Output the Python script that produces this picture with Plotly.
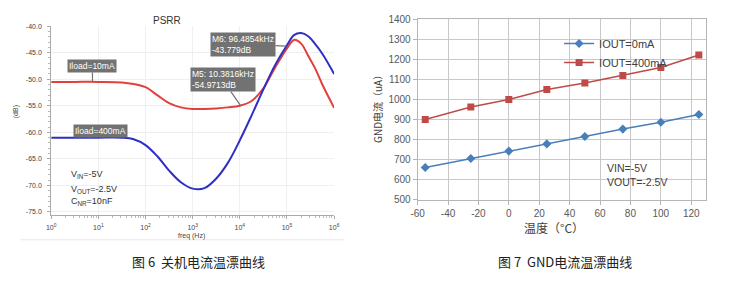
import plotly.graph_objects as go

W, H = 737, 287

# ---------------- Left chart: PSRR ----------------
psrr_freq_hz = [1, 3.16, 10, 31.6, 56.2, 100, 178, 316, 562, 1000, 1780, 3160, 5620,
                10000, 17800, 31600, 56200, 100000, 141000, 200000, 282000, 398000,
                562000, 1000000]
psrr_iload_10ma_db = [-50.5, -50.5, -50.5, -50.6, -50.9, -51.5, -53.0, -54.5, -55.3, -55.6,
                      -55.6, -55.5, -55.3, -55.0, -54.1, -51.7, -47.8, -44.2, -42.6, -43.3,
                      -45.6, -48.0, -51.0, -55.4]
psrr_iload_400ma_db = [-61.0, -61.0, -61.0, -61.0, -61.3, -62.4, -64.5, -67.2, -69.4, -70.6,
                       -70.5, -68.7, -65.7, -61.5, -56.8, -51.9, -47.3, -43.6, -41.7, -41.3,
                       -41.9, -43.4, -45.2, -49.0]
psrr_xtick_vals = [1, 10, 100, 1000, 10000, 100000, 1000000]
psrr_xtick_text = ["10<sup>0</sup>", "10<sup>1</sup>", "10<sup>2</sup>", "10<sup>3</sup>",
                   "10<sup>4</sup>", "10<sup>5</sup>", "10<sup>6</sup>"]
psrr_ytick_vals = [-40, -45, -50, -55, -60, -65, -70, -75]
psrr_ytick_text = ["-40.0", "-45.0", "-50.0", "-55.0", "-60.0", "-65.0", "-70.0", "-75.0"]
psrr_minor_x = [m * d for d in [1, 10, 100, 1000, 10000, 100000] for m in range(2, 10)]

# ---------------- Right chart: GND current vs temperature ----------------
temp_c = [-55, -25, 0, 25, 50, 75, 100, 125]
gnd_iout_0ma = [660, 705, 742, 778, 815, 852, 886, 925]
gnd_iout_400ma = [900, 962, 1000, 1050, 1082, 1120, 1160, 1222]
temp_ticks = [-60, -40, -20, 0, 20, 40, 60, 80, 100, 120]
temp_tick_text = ["-60", "-40", "-20", "0", "20", "40", "60", "80", "100", "120"]
gnd_ticks = [500, 600, 700, 800, 900, 1000, 1100, 1200, 1300, 1400]


def px(x):
    return x / W


def py(y):
    return 1 - y / H


fig = go.Figure()

fig.add_trace(go.Scatter(x=psrr_freq_hz, y=psrr_iload_10ma_db, mode="lines",
                         line=dict(color="#e2403c", width=2, shape="spline", smoothing=1.0),
                         xaxis="x", yaxis="y", showlegend=False, name="Iload=10mA"))
fig.add_trace(go.Scatter(x=psrr_freq_hz, y=psrr_iload_400ma_db, mode="lines",
                         line=dict(color="#2f2fc4", width=2, shape="spline", smoothing=1.0),
                         xaxis="x", yaxis="y", showlegend=False, name="Iload=400mA"))

fig.add_trace(go.Scatter(x=temp_c, y=gnd_iout_0ma, mode="lines+markers", name="IOUT=0mA",
                         line=dict(color="#4a7ebb", width=1.5),
                         marker=dict(symbol="diamond", size=7, color="#4a7ebb"),
                         xaxis="x2", yaxis="y2"))
fig.add_trace(go.Scatter(x=temp_c, y=gnd_iout_400ma, mode="lines+markers", name="IOUT=400mA",
                         line=dict(color="#be4b48", width=1.5),
                         marker=dict(symbol="square", size=7, color="#be4b48"),
                         xaxis="x2", yaxis="y2"))

left_font = "Liberation Sans, Arial, sans-serif"
right_font = "Liberation Sans, Arial, sans-serif"
cjk = "Noto Sans CJK SC, sans-serif"

annotations = []
box_gray = "#727272"
for txt, xl, yv, ax, ay in [
    ("Iload=10mA", 0.875, -50.5, 0, -16),
    ("Iload=400mA", 0.8, -61.0, 12, -7),
    ("M6: 96.4854kHz<br>-43.779dB", 4.98, -43.78, -43, -2),
    ("M5: 10.3816kHz<br>-54.9713dB", 4.016, -54.97, -18, -26),
]:
    annotations.append(dict(x=xl, y=yv, xref="x", yref="y", text=txt, showarrow=True,
                            ax=ax, ay=ay, arrowhead=0, arrowwidth=1.2, arrowcolor=box_gray,
                            bgcolor=box_gray, borderpad=1, align="left",
                            font=dict(family=left_font, size=8.5, color="white")))


def label(x, y, text, size, color, family, xanchor="center", angle=0):
    annotations.append(dict(x=px(x), y=py(y), xref="paper", yref="paper", text=text,
                            showarrow=False, xanchor=xanchor, yanchor="middle",
                            textangle=angle, font=dict(family=family, size=size, color=color)))


label(63, 176, "V<sub>IN</sub>=-5V", 9, "#333", left_font, "left")
label(63, 191, "V<sub>OUT</sub>=-2.5V", 9, "#333", left_font, "left")
label(63, 204, "C<sub>NR</sub>=10nF", 9, "#333", left_font, "left")
label(163, 15, "PSRR", 10, "#333", left_font)
label(188, 240, "freq (Hz)", 7, "#444", left_font)
label(10, 110, "(dB)", 7, "#444", left_font, angle=-90)
label(609, 169, "VIN=-5V", 10.5, "#404040", right_font, "left")
label(609, 184, "VOUT=-2.5V", 10.5, "#404040", right_font, "left")
label(377, 105, "GND电流（uA）", 10, "#404040", cjk, angle=-90)
label(557, 231, "温度（°C）", 12, "#404040", cjk)
label(195, 267, "图 6  关机电流温漂曲线", 13, "#222", cjk)
label(568, 267, "图 7  GND电流温漂曲线", 13, "#222", cjk)

fig.update_layout(
    width=W, height=H, margin=dict(l=0, r=0, t=0, b=0),
    paper_bgcolor="white", plot_bgcolor="white",
    xaxis=dict(type="log", range=[0, 6], domain=[px(45), px(333)], anchor="y",
               tickvals=psrr_xtick_vals, ticktext=psrr_xtick_text,
               ticks="outside", ticklen=3, tickcolor="#aaa", ticklabelstandoff=2,
               showline=True, linecolor="#aaa", linewidth=1,
               showgrid=True, gridcolor="#efefef", zeroline=False,
               tickfont=dict(family=left_font, size=7, color="#444"),
               minor=dict(tickvals=psrr_minor_x, ticks="outside", ticklen=2,
                          tickcolor="#bbb", showgrid=False)),
    yaxis=dict(range=[-75.6, -40], domain=[py(218.3), py(21)], anchor="x",
               tickvals=psrr_ytick_vals, ticktext=psrr_ytick_text,
               ticks="outside", ticklen=3, tickcolor="#aaa", ticklabelstandoff=4,
               showline=True, linecolor="#aaa", linewidth=1,
               showgrid=True, gridcolor="#efefef", zeroline=False,
               tickfont=dict(family=left_font, size=7, color="#444"),
               minor=dict(dtick=1, ticks="outside", ticklen=2, tickcolor="#bbb",
                          showgrid=False)),
    xaxis2=dict(range=[-60, 130], domain=[px(418), px(712)], anchor="y2",
                tickvals=temp_ticks, ticktext=temp_tick_text,
                ticks="outside", ticklen=4, tickcolor="#b5b5b5",
                showline=True, linecolor="#b5b5b5", mirror=True,
                showgrid=True, gridcolor="#c8c8c8", zeroline=False,
                tickfont=dict(family=right_font, size=10, color="#595959")),
    yaxis2=dict(range=[500, 1400], domain=[py(202), py(14)], anchor="x2",
                tickvals=gnd_ticks, ticks="outside", ticklen=4, tickcolor="#b5b5b5",
                showline=True, linecolor="#b5b5b5", mirror=True,
                showgrid=True, gridcolor="#c8c8c8", zeroline=False,
                tickfont=dict(family=right_font, size=10, color="#595959")),
    legend=dict(x=px(562), y=py(24), xanchor="left", yanchor="top",
                bgcolor="rgba(0,0,0,0)", font=dict(family=right_font, size=11, color="#404040")),
    annotations=annotations,
    shapes=[dict(type="line", xref="paper", yref="paper", x0=px(14), x1=px(343),
                 y0=py(244), y1=py(244), line=dict(color="#e6e6e6", width=1))],
)

fig.write_html("out.html")
